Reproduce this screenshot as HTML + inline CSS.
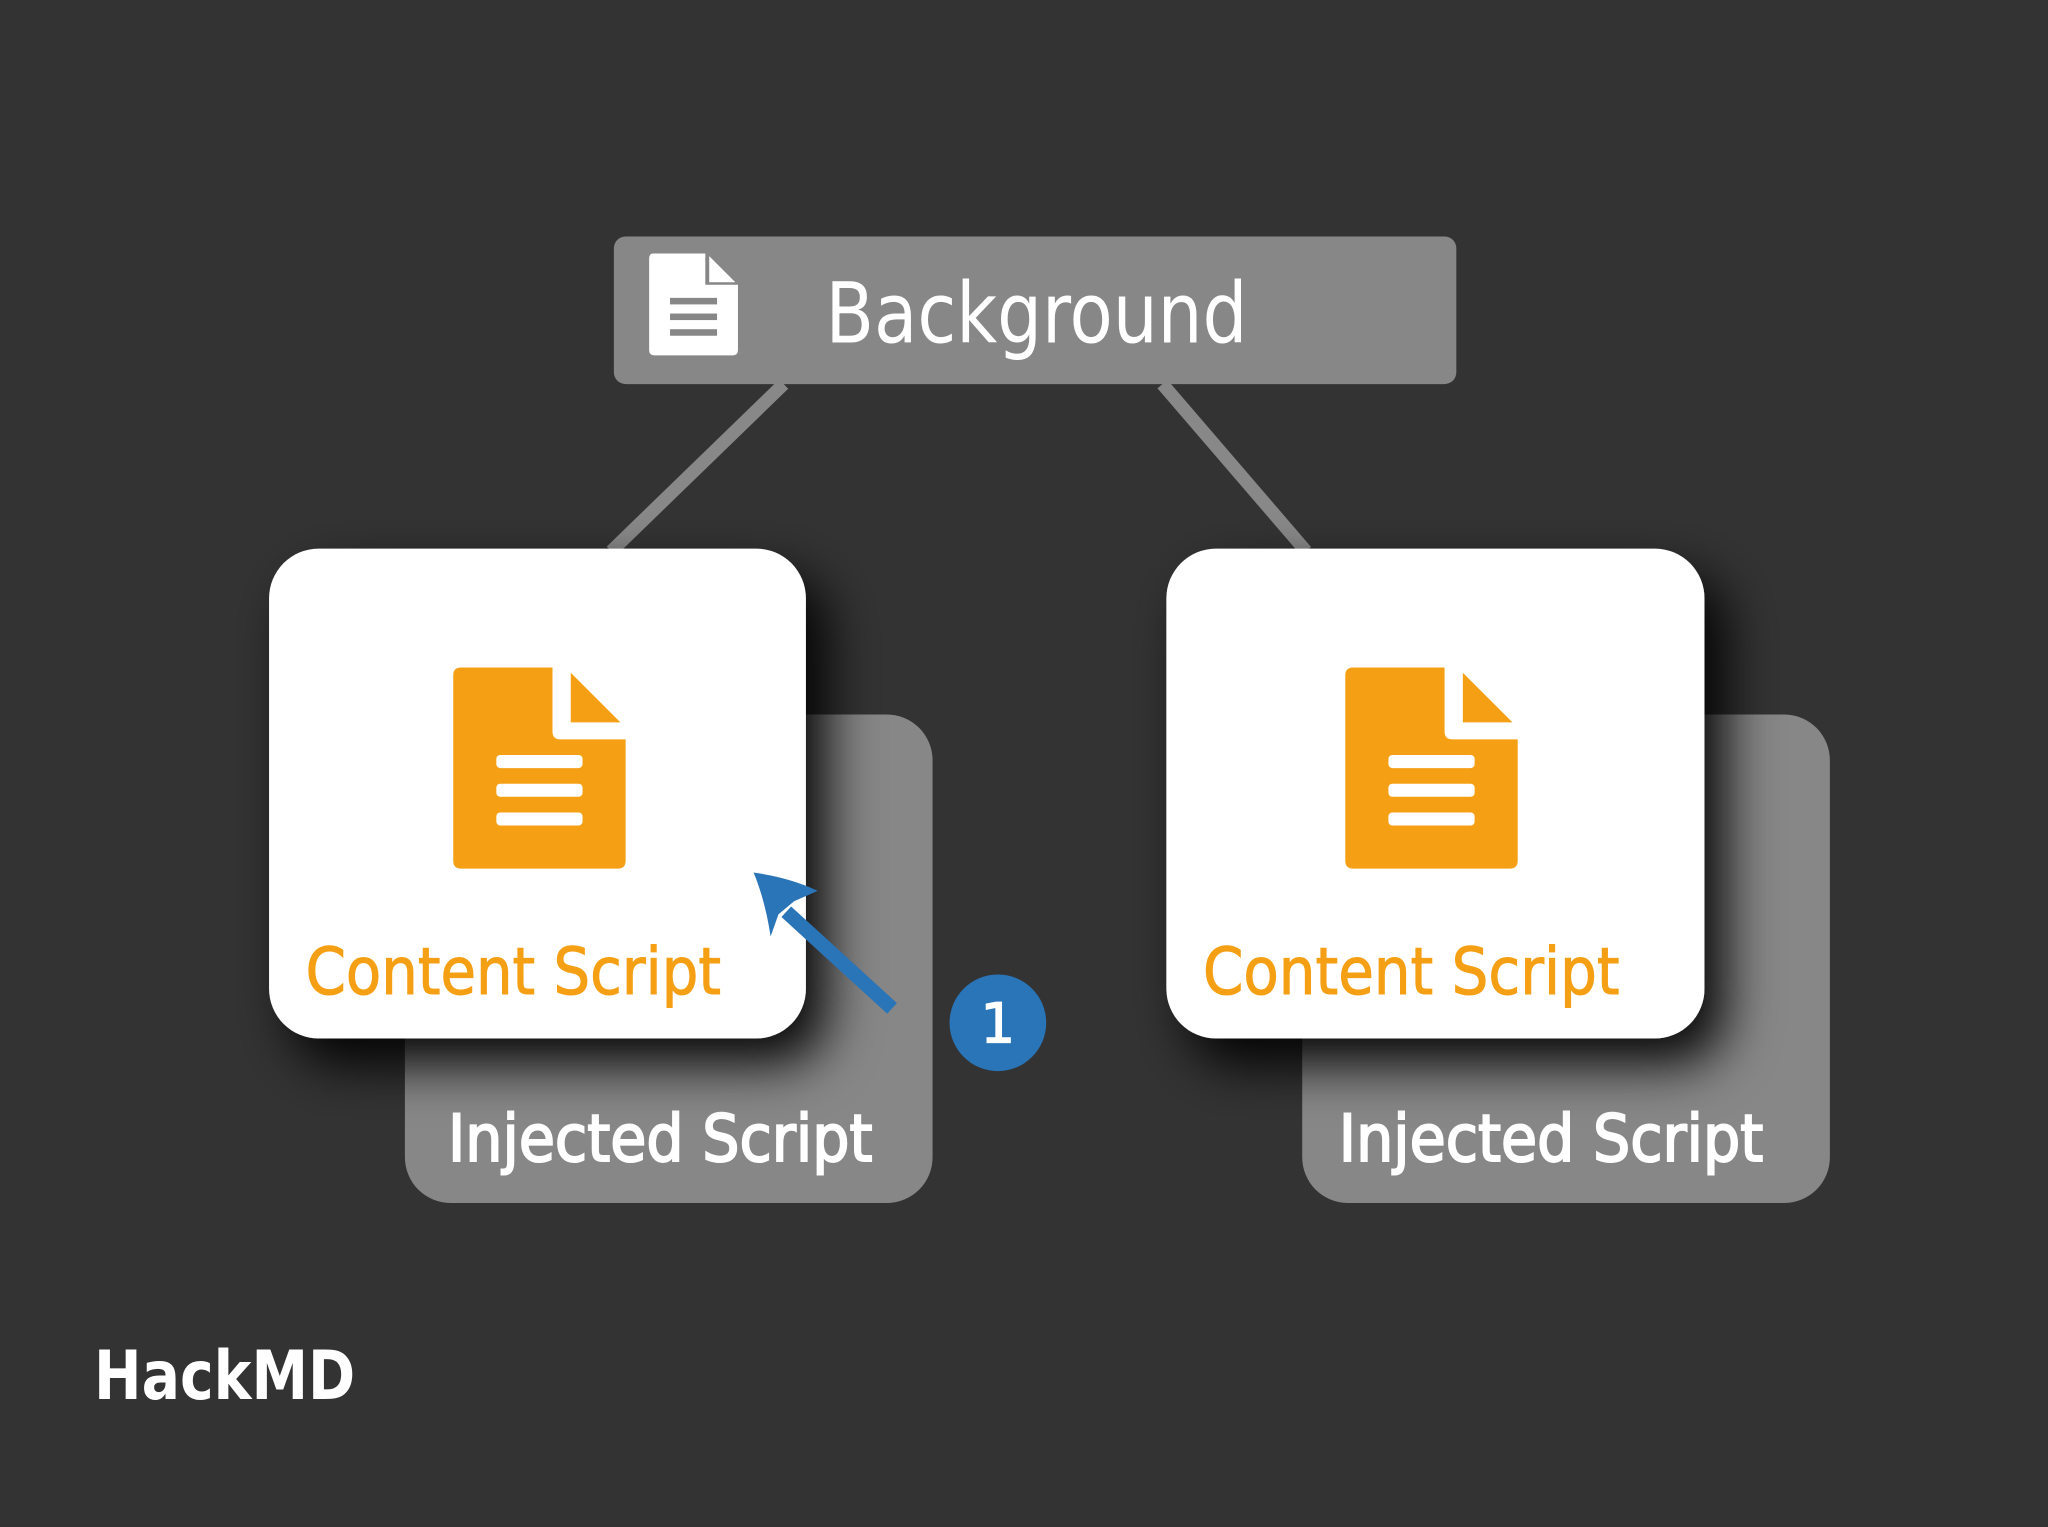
<!DOCTYPE html>
<html><head><meta charset="utf-8"><style>
html,body{margin:0;padding:0;background:#333333;}
svg{display:block;}
text{font-family:"DejaVu Sans","Liberation Sans",sans-serif;}
</style></head><body>
<svg width="2048" height="1527" viewBox="0 0 1568 1169" xmlns="http://www.w3.org/2000/svg">
<defs>
<filter id="sh" x="-30%" y="-30%" width="170%" height="170%">
<feDropShadow dx="16" dy="20" stdDeviation="20" flood-color="#000" flood-opacity="0.95"/>
</filter>
<g id="odoc">
<path d="M347,517 Q347,511 353,511 H423 V560 Q423,566 429,566 H479 V659 Q479,665 473,665 H353 Q347,665 347,659 Z" fill="#f5a014"/>
<path d="M437,515 L475,553 H437 Z" fill="#f5a014"/>
<rect x="380" y="578" width="66" height="10" rx="3" fill="#fff"/>
<rect x="380" y="600" width="66" height="10" rx="3" fill="#fff"/>
<rect x="380" y="622" width="66" height="10" rx="3" fill="#fff"/>
</g>
</defs>
<rect width="1568" height="1169" fill="#333333"/>
<line x1="600" y1="294" x2="468" y2="422" stroke="#888" stroke-width="10"/>
<line x1="890" y1="294" x2="1000" y2="422" stroke="#888" stroke-width="10"/>
<rect x="470" y="181" width="645" height="113" rx="9" fill="#878787"/>
<path d="M500,194 H540 V218 H565 V268 Q565,272 561,272 H501 Q497,272 497,268 V198 Q497,194 500,194 Z" fill="#fff"/>
<path d="M543,196 L563,216 H543 Z" fill="#fff"/>
<rect x="513" y="228" width="36" height="5" fill="#878787"/>
<rect x="513" y="240" width="36" height="5" fill="#878787"/>
<rect x="513" y="252" width="36" height="5" fill="#878787"/>
<text x="632" y="262" font-size="64" fill="#fff" textLength="323" lengthAdjust="spacingAndGlyphs">Background</text>
<rect x="310" y="547" width="404" height="374" rx="35" fill="#878787"/>
<text x="343" y="889" font-size="50" fill="#fff" stroke="#fff" stroke-width="1.6" textLength="325" lengthAdjust="spacingAndGlyphs">Injected Script</text>
<rect x="206" y="420" width="411" height="375" rx="38" fill="#fff" filter="url(#sh)"/>
<use href="#odoc"/>
<text x="234" y="761" font-size="50" fill="#f5a014" stroke="#f5a014" stroke-width="0.8" textLength="318" lengthAdjust="spacingAndGlyphs">Content Script</text>
<rect x="997" y="547" width="404" height="374" rx="35" fill="#878787"/>
<text x="1025" y="889" font-size="50" fill="#fff" stroke="#fff" stroke-width="1.6" textLength="325" lengthAdjust="spacingAndGlyphs">Injected Script</text>
<rect x="893" y="420" width="412" height="375" rx="38" fill="#fff" filter="url(#sh)"/>
<use href="#odoc" transform="translate(683,0)"/>
<text x="921" y="761" font-size="50" fill="#f5a014" stroke="#f5a014" stroke-width="0.8" textLength="319" lengthAdjust="spacingAndGlyphs">Content Script</text>
<line x1="683" y1="772" x2="602" y2="698" stroke="#2a74b8" stroke-width="11"/>
<path d="M577,668 Q605,672 626,682 L608,690 L596,700 L590,717 Q586,690 577,668 Z" fill="#2a74b8"/>
<circle cx="764" cy="783" r="37" fill="#2a74b8"/>
<text x="764" y="798" font-size="42" fill="#fff" stroke="#fff" stroke-width="1" text-anchor="middle">1</text>
<text x="72" y="1071" font-size="52" font-weight="bold" fill="#fff" textLength="200" lengthAdjust="spacingAndGlyphs">HackMD</text>
</svg>
</body></html>
